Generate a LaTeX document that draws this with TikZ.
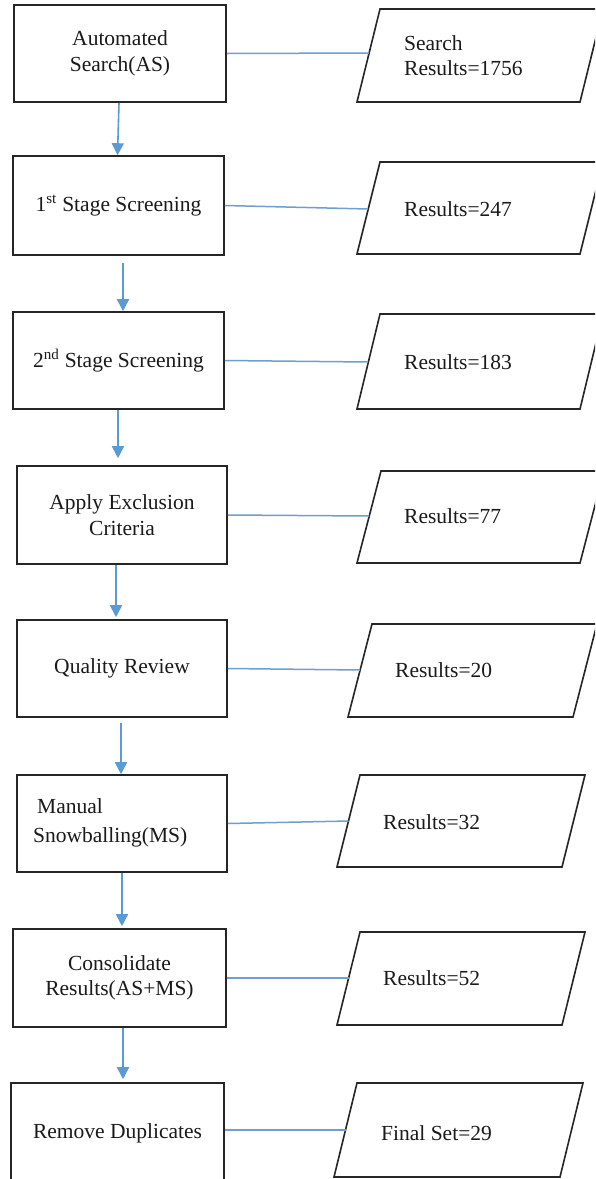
\documentclass[tikz,border=0pt]{standalone}
\usepackage{fontspec}
\setmainfont{Liberation Serif}
\usetikzlibrary{arrows.meta}
\definecolor{arrowblue}{HTML}{5B9BD5}
\definecolor{linkblue}{HTML}{6E9FD0}
\definecolor{edgegray}{HTML}{262626}
\definecolor{inkgray}{HTML}{1A1A1A}
\newcommand\fsz{\fontsize{21.5}{25.5}\selectfont}
\tikzset{
  stepbox/.style={draw=edgegray, line width=1.6pt, fill=white, inner sep=0pt,
    align=center, font=\fsz, text=inkgray},
  parabox/.style={draw=edgegray, line width=1.6pt, fill=white, line join=miter},
  ptext/.style={anchor=west, inner sep=0pt, align=left, font=\fsz, text=inkgray},
  flowarrow/.style={draw=arrowblue, line width=1.6pt,
    -{Triangle[width=12pt,length=12pt]}},
  linkline/.style={draw=linkblue, line width=1.5pt},
}
\begin{document}
\begin{tikzpicture}[x=1pt,y=-1pt]
\fill[white] (0,0) rectangle (595,1179);
\clip (0,0) rectangle (595,1179);

% process boxes
\node[stepbox, minimum width=212pt, minimum height=97pt] (b1) at (120,53.5) {Automated\\Search(AS)};
\node[stepbox, minimum width=211pt, minimum height=99pt] (b2) at (118.5,205.5) {1\textsuperscript{st} Stage Screening};
\node[stepbox, minimum width=211pt, minimum height=97pt] (b3) at (118.5,360.5) {2\textsuperscript{nd} Stage Screening};
\node[stepbox, minimum width=210pt, minimum height=98pt] (b4) at (122,515) {Apply Exclusion\\Criteria};
\node[stepbox, minimum width=210pt, minimum height=97pt] (b5) at (122,668.5) {Quality Review};
\node[stepbox, minimum width=210pt, minimum height=97pt] (b6) at (122,823.5) {};
\node[ptext] (t6a) at (37,806) {Manual};
\node[ptext] (t6b) at (33,837) {Snowballing(MS)};
\node[stepbox, minimum width=213pt, minimum height=98pt] (b7) at (119.5,978) {Consolidate\\Results(AS+MS)};
\node[stepbox, minimum width=213pt, minimum height=100pt] (b8) at (117.5,1133) {Remove Duplicates};

% result parallelograms
\draw[parabox] (357,102) -- (380,9) -- (603,9) -- (580,102) -- cycle;
\draw[parabox] (357,254) -- (380,162) -- (603,162) -- (580,254) -- cycle;
\draw[parabox] (357,409) -- (380,314) -- (603,314) -- (580,409) -- cycle;
\draw[parabox] (357,563) -- (381,471) -- (604,471) -- (580,563) -- cycle;
\draw[parabox] (348,717) -- (372,624) -- (597,624) -- (573,717) -- cycle;
\draw[parabox] (337,867) -- (360,775) -- (585,775) -- (562,867) -- cycle;
\draw[parabox] (337,1025) -- (360,932) -- (585,932) -- (562,1025) -- cycle;
\draw[parabox] (334,1177) -- (357,1083) -- (583,1083) -- (560,1177) -- cycle;

\node[ptext] (p1) at (404,55.5) {Search\\Results=1756};
\node[ptext] (p2) at (404,209) {Results=247};
\node[ptext] (p3) at (404,362) {Results=183};
\node[ptext] (p4) at (404,516) {Results=77};
\node[ptext] (p5) at (395,670) {Results=20};
\node[ptext] (p6) at (383,822) {Results=32};
\node[ptext] (p7) at (383,978) {Results=52};
\node[ptext] (p8) at (381,1133) {Final Set=29};

% connector ends on the parallelogram left edges
\coordinate (p1w) at (369,53);
\coordinate (p2w) at (368,209);
\coordinate (p3w) at (368,362);
\coordinate (p4w) at (369,516);
\coordinate (p5w) at (360,670);
\coordinate (p6w) at (348.5,821);
\coordinate (p7w) at (348.6,978);
\coordinate (p8w) at (345.5,1130);

\draw[linkline] (b1.east) -- (p1w);
\draw[linkline] (b2.east) -- (p2w);
\draw[linkline] (b3.east) -- (p3w);
\draw[linkline] (b4.east) -- (p4w);
\draw[linkline] (b5.east) -- (p5w);
\draw[linkline] (b6.east) -- (p6w);
\draw[linkline] (b7.east) -- (p7w);
\draw[linkline] ([yshift=3pt]b8.east) -- (p8w);

% flow arrows
\draw[flowarrow] ([xshift=-1pt]b1.south) -- ([xshift=-1pt]b2.north);
\draw[flowarrow] ([xshift=4.5pt,yshift=-7pt]b2.south) -- ([xshift=4.5pt]b3.north);
\draw[flowarrow] ([xshift=-0.5pt]b3.south) -- ([xshift=-4pt,yshift=7pt]b4.north);
\draw[flowarrow] ([xshift=-6pt]b4.south) -- ([xshift=-6pt,yshift=2pt]b5.north);
\draw[flowarrow] ([xshift=-1pt,yshift=-5pt]b5.south) -- ([xshift=-1pt]b6.north);
\draw[flowarrow] ([xshift=0pt]b6.south) -- ([xshift=2.5pt,yshift=2pt]b7.north);
\draw[flowarrow] ([xshift=3.5pt]b7.south) -- ([xshift=5.5pt,yshift=3pt]b8.north);
\end{tikzpicture}
\end{document}
